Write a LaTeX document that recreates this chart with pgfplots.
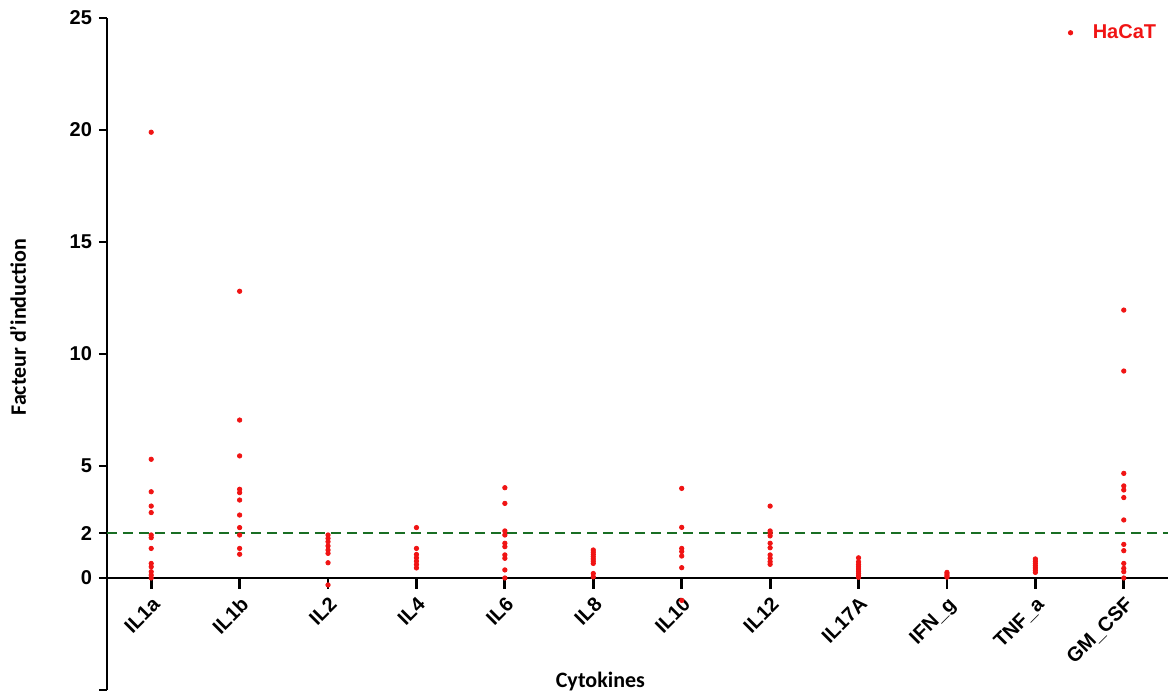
\documentclass[border=0pt]{standalone}
\usepackage{fontspec}
\setmainfont{Liberation Sans}
\newfontfamily\carlito{Carlito}
\usepackage{pgfplots}
\pgfplotsset{compat=1.18}
\definecolor{hred}{RGB}{240,20,20}
\definecolor{hgreen}{RGB}{25,110,35}
\pgfplotstableread{
x y
0 19.9
0 5.30
0 3.85
0 3.21
0 2.92
0 1.92
0 1.80
0 1.32
0 0.65
0 0.50
0 0.28
0 0.13
0 0.0
1 12.8
1 7.05
1 5.45
1 3.96
1 3.81
1 3.48
1 2.81
1 2.25
1 1.92
1 1.32
1 1.06
2 1.92
2 1.77
2 1.62
2 1.43
2 1.25
2 1.10
2 0.68
2 -0.31
3 2.25
3 1.32
3 1.05
3 0.90
3 0.75
3 0.60
3 0.45
4 4.03
4 3.33
4 2.10
4 1.92
4 1.55
4 1.40
4 1.03
4 0.88
4 0.36
4 0.0
5 1.25
5 1.15
5 1.05
5 0.95
5 0.85
5 0.75
5 0.65
5 0.20
5 0.05
6 4.00
6 2.26
6 1.32
6 1.18
6 0.98
6 0.46
6 -1.00
7 3.21
7 2.10
7 2.00
7 1.88
7 1.55
7 1.35
7 1.03
7 0.88
7 0.73
7 0.61
8 0.90
8 0.72
8 0.60
8 0.50
8 0.40
8 0.30
8 0.20
8 0.10
8 0.03
9 0.25
9 0.18
9 0.10
9 0.04
10 0.85
10 0.75
10 0.65
10 0.55
10 0.45
10 0.35
10 0.25
11 11.96
11 9.24
11 4.67
11 4.11
11 3.93
11 3.59
11 2.59
11 1.50
11 1.22
11 0.65
11 0.43
11 0.28
11 0.0
}\hacat
\pgfplotstableread{
x y
0 -0.25
1 -0.25
2 -0.25
3 -0.25
4 -0.25
5 -0.25
6 -0.25
7 -0.25
8 -0.25
9 -0.25
10 -0.25
11 -0.25
}\tickmarks
\begin{document}
\begin{tikzpicture}
\begin{axis}[
  scale only axis, width=530.5pt, height=336pt,
  xmin=-0.5, xmax=11.5, ymin=-5, ymax=25,
  axis x line=middle, axis y line=left,
  axis line style={-, line width=1.2pt, black},
  hide obscured x ticks=false, hide obscured y ticks=false,
  xtick={0,...,11},
  xticklabels={IL1a,IL1b,IL2,IL4,IL6,IL8,IL10,IL12,IL17A,IFN\_g,TNF\_a,GM\_CSF},
  ytick={-5,0,2,5,10,15,20,25},
  yticklabels={{},0,2,5,10,15,20,25},
  tick align=outside, xtick align=outside, major tick length=4pt,
  tick style={line width=1.2pt, black},
  x tick label style={rotate=45, anchor=north east, font=\bfseries\fontsize{10}{12}\selectfont},
  y tick label style={font=\bfseries\fontsize{10}{12}\selectfont},
  xlabel={Cytokines},
  xlabel style={at={(axis description cs:0.465,0.012)}, anchor=center, font=\carlito\bfseries\fontsize{11}{13}\selectfont},
  ylabel={Facteur d’induction},
  ylabel style={at={(axis description cs:-0.084,0.54)}, anchor=center, rotate=0, font=\carlito\bfseries\fontsize{11}{13}\selectfont},
  legend style={draw=none, fill=none, at={(axis description cs:0.9986,0.978)}, anchor=east,
    font=\bfseries\fontsize{10}{12}\selectfont, text=hred,
    /tikz/every odd column/.append style={column sep=8pt}},
  clip=false,
]
\addplot[only marks, mark=|, mark size=2.6pt, mark options={line width=1.4pt, black}, forget plot] table[x=x,y=y] {\tickmarks};
\addplot[only marks, mark=*, mark size=1.1pt, color=hred] table[x=x,y=y] {\hacat};
\addlegendentry{HaCaT}
\addplot[hgreen, line width=1pt, dash pattern=on 5pt off 3pt, forget plot] coordinates {(-0.5,2) (11.5,2)};
\coordinate (bl) at (rel axis cs:0,0);
\coordinate (tr) at (rel axis cs:1,1);
\end{axis}
\pgfresetboundingbox
\path[use as bounding box] ([xshift=-53.5pt,yshift=-2pt]bl) rectangle ([yshift=9pt]tr);
\end{tikzpicture}
\end{document}
